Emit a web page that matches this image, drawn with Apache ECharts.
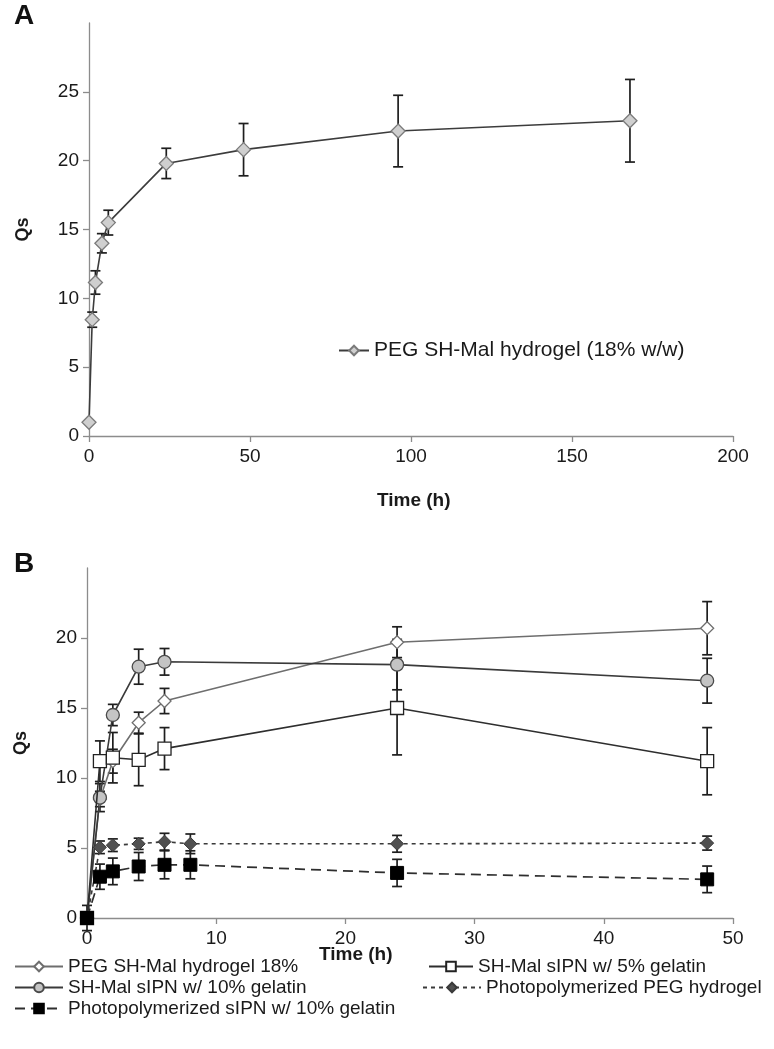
<!DOCTYPE html>
<html>
<head>
<meta charset="utf-8">
<script src="https://cdn.jsdelivr.net/npm/echarts@6/dist/echarts.min.js"></script>
<style>
html,body{margin:0;padding:0;background:#fff;}
#chart{width:774px;height:1049px;}
</style>
</head>
<body>
<div id="chart"></div>
<script>
// ---------- Panel A data ----------
const timeA = [0, 1, 2, 4, 6, 24, 48, 96, 168];
const qsA = [1.0, 8.45, 11.15, 14.0, 15.5, 19.8, 20.8, 22.15, 22.9];
const errA = [0, 0.55, 0.85, 0.7, 0.9, 1.1, 1.9, 2.6, 3.0];
const nameA = 'PEG SH-Mal hydrogel (18% w/w)';
const xTicksA = [0, 50, 100, 150, 200];
const yTicksA = [0, 5, 10, 15, 20, 25];

// ---------- Panel B data ----------
const timeB3 = [0, 1, 2, 4, 6, 24, 48];
const timeB5 = [0, 1, 2, 4, 6, 8, 24, 48];
const namesB = [
  'PEG SH-Mal hydrogel 18%',
  'SH-Mal sIPN w/ 5% gelatin',
  'SH-Mal sIPN w/ 10% gelatin',
  'Photopolymerized PEG hydrogel',
  'Photopolymerized sIPN w/ 10% gelatin'
];
const pegB = [0, 8.5, 11.2, 13.95, 15.5, 19.7, 20.7];
const pegBErr = [0, 0.55, 0.85, 0.75, 0.9, 1.1, 1.9];
const sipn5B = [0, 11.2, 11.45, 11.3, 12.1, 15.0, 11.2];
const sipn5BErr = [0.9, 1.45, 1.8, 1.85, 1.5, 3.35, 2.4];
const sipn10B = [0, 8.6, 14.5, 17.95, 18.3, 18.1, 16.95];
const sipn10BErr = [0, 1.0, 0.76, 1.25, 0.95, 1.8, 1.6];
const photoPegB = [0, 5.05, 5.2, 5.3, 5.45, 5.3, 5.3, 5.35];
const photoPegBErr = [0, 0.45, 0.45, 0.4, 0.6, 0.7, 0.6, 0.5];
const photoSipnB = [0, 2.95, 3.33, 3.68, 3.8, 3.8, 3.22, 2.76];
const photoSipnBErr = [0, 0.9, 0.95, 1.0, 1.0, 1.0, 0.97, 0.95];
const xTicksB = [0, 10, 20, 30, 40, 50];
const yTicksB = [0, 5, 10, 15, 20];

// ---------- styling ----------
const FONT = "'Liberation Sans',Arial,sans-serif";
const AXIS_COLOR = '#8c8c8c';
const TEXT_COLOR = '#1a1a1a';

function pairs(xs, ys) { return xs.map((x, i) => [x, ys[i]]); }

function errSeries(axisIdx, xs, ys, es) {
  return {
    type: 'custom',
    xAxisIndex: axisIdx, yAxisIndex: axisIdx,
    z: 1, silent: true,
    data: xs.map((x, i) => [x, ys[i] - es[i], ys[i] + es[i]]).filter(d => d[2] > d[1]),
    encode: { x: 0, y: [1, 2] },
    renderItem: function (params, api) {
      const lo = api.coord([api.value(0), api.value(1)]);
      const hi = api.coord([api.value(0), api.value(2)]);
      const w = 5;
      const st = { stroke: '#1e1e1e', lineWidth: 1.7 };
      return {
        type: 'group',
        children: [
          { type: 'line', shape: { x1: lo[0], y1: lo[1], x2: hi[0], y2: hi[1] }, style: st },
          { type: 'line', shape: { x1: lo[0] - w, y1: lo[1], x2: lo[0] + w, y2: lo[1] }, style: st },
          { type: 'line', shape: { x1: hi[0] - w, y1: hi[1], x2: hi[0] + w, y2: hi[1] }, style: st }
        ]
      };
    }
  };
}

function xAxisDef(gridIndex, max, interval, ticks) {
  return {
    type: 'value', gridIndex, min: 0, max, interval,
    axisLine: { show: true, lineStyle: { color: AXIS_COLOR, width: 1.3 } },
    axisTick: { show: true, length: 6, customValues: ticks, lineStyle: { color: AXIS_COLOR, width: 1.3 } },
    axisLabel: { color: TEXT_COLOR, fontFamily: FONT, fontSize: 19, margin: 11, customValues: ticks },
    splitLine: { show: false }
  };
}
function yAxisDef(gridIndex, max, ticks) {
  return {
    type: 'value', gridIndex, min: 0, max, interval: 5,
    axisLine: { show: true, onZero: false, lineStyle: { color: AXIS_COLOR, width: 1.3 } },
    axisTick: { show: true, length: 6, customValues: ticks, lineStyle: { color: AXIS_COLOR, width: 1.3 } },
    axisLabel: { color: TEXT_COLOR, fontFamily: FONT, fontSize: 19, margin: 10, customValues: ticks },
    splitLine: { show: false },
    name: 'Qs', nameLocation: 'middle', nameGap: 57, nameRotate: 90,
    nameTextStyle: { fontFamily: FONT, fontWeight: 'bold', fontSize: 18, color: TEXT_COLOR }
  };
}

function legendDef(name, left, top, w, size) {
  return {
    data: [name], left, top, orient: 'horizontal',
    itemWidth: w, itemHeight: 12, itemGap: 0,
    selectedMode: false,
    textStyle: { fontFamily: FONT, fontSize: size, color: TEXT_COLOR }, padding: 0
  };
}

const chart = echarts.init(document.getElementById('chart'), null, { renderer: 'canvas' });
chart.setOption({
  animation: false,
  backgroundColor: '#ffffff',
  grid: [
    { left: 89, right: 41, top: 23, bottom: 613 },
    { left: 87, right: 41, top: 568, bottom: 131 }
  ],
  xAxis: [xAxisDef(0, 200, 50, xTicksA), xAxisDef(1, 50, 10, xTicksB)],
  yAxis: [yAxisDef(0, 30, yTicksA), yAxisDef(1, 25, yTicksB)],
  legend: [
    legendDef(nameA, 338, 340, 30, 21),
    legendDef(namesB[0], 14, 957, 48, 19),
    legendDef(namesB[2], 14, 978, 48, 19),
    legendDef(namesB[4], 14, 999, 48, 19),
    legendDef(namesB[1], 428, 957, 44, 19),
    legendDef(namesB[3], 422, 978, 58, 19)
  ],
  graphic: [
    { type: 'text', left: 14, top: 2, style: { text: 'A', font: "bold 28px 'Liberation Sans',Arial,sans-serif", fill: '#111' } },
    { type: 'text', left: 14, top: 550, style: { text: 'B', font: "bold 28px 'Liberation Sans',Arial,sans-serif", fill: '#111' } },
    { type: 'text', left: 377, top: 491, style: { text: 'Time (h)', font: "bold 19px " + FONT, fill: TEXT_COLOR } },
    { type: 'text', left: 319, top: 945, style: { text: 'Time (h)', font: "bold 19px " + FONT, fill: TEXT_COLOR } }
  ],
  series: [
    errSeries(0, timeA, qsA, errA),
    {
      name: nameA, type: 'line', xAxisIndex: 0, yAxisIndex: 0, z: 3,
      data: pairs(timeA, qsA),
      symbol: 'diamond', symbolSize: 14,
      lineStyle: { color: '#3c3c3c', width: 1.6 },
      itemStyle: { color: '#cfcfcf', borderColor: '#7a7a7a', borderWidth: 1.3 }
    },
    errSeries(1, timeB3, pegB, pegBErr),
    errSeries(1, timeB3, sipn5B, sipn5BErr),
    errSeries(1, timeB3, sipn10B, sipn10BErr),
    errSeries(1, timeB5, photoPegB, photoPegBErr),
    errSeries(1, timeB5, photoSipnB, photoSipnBErr),
    {
      name: namesB[0], type: 'line', xAxisIndex: 1, yAxisIndex: 1, z: 3,
      data: pairs(timeB3, pegB),
      symbol: 'diamond', symbolSize: 13,
      lineStyle: { color: '#6e6e6e', width: 1.6 },
      itemStyle: { color: '#ffffff', borderColor: '#6e6e6e', borderWidth: 1.3 }
    },
    {
      name: namesB[2], type: 'line', xAxisIndex: 1, yAxisIndex: 1, z: 3,
      data: pairs(timeB3, sipn10B),
      symbol: 'circle', symbolSize: 13,
      lineStyle: { color: '#3a3a3a', width: 1.6 },
      itemStyle: { color: '#c4c4c4', borderColor: '#4a4a4a', borderWidth: 1.3 }
    },
    {
      name: namesB[1], type: 'line', xAxisIndex: 1, yAxisIndex: 1, z: 4,
      data: pairs(timeB3, sipn5B),
      symbol: 'rect', symbolSize: 13,
      lineStyle: { color: '#2e2e2e', width: 1.6 },
      itemStyle: { color: '#ffffff', borderColor: '#222222', borderWidth: 1.3 }
    },
    {
      name: namesB[3], type: 'line', xAxisIndex: 1, yAxisIndex: 1, z: 3,
      data: pairs(timeB5, photoPegB),
      symbol: 'diamond', symbolSize: 13,
      lineStyle: { color: '#3a3a3a', width: 1.6, type: [4, 4] },
      itemStyle: { color: '#505050', borderColor: '#3a3a3a', borderWidth: 1 }
    },
    {
      name: namesB[4], type: 'line', xAxisIndex: 1, yAxisIndex: 1, z: 4,
      data: pairs(timeB5, photoSipnB),
      symbol: 'rect', symbolSize: 13,
      lineStyle: { color: '#2e2e2e', width: 1.7, type: [10, 6] },
      itemStyle: { color: '#000000', borderColor: '#000000', borderWidth: 1 }
    }
  ]
});
</script>
</body>
</html>
